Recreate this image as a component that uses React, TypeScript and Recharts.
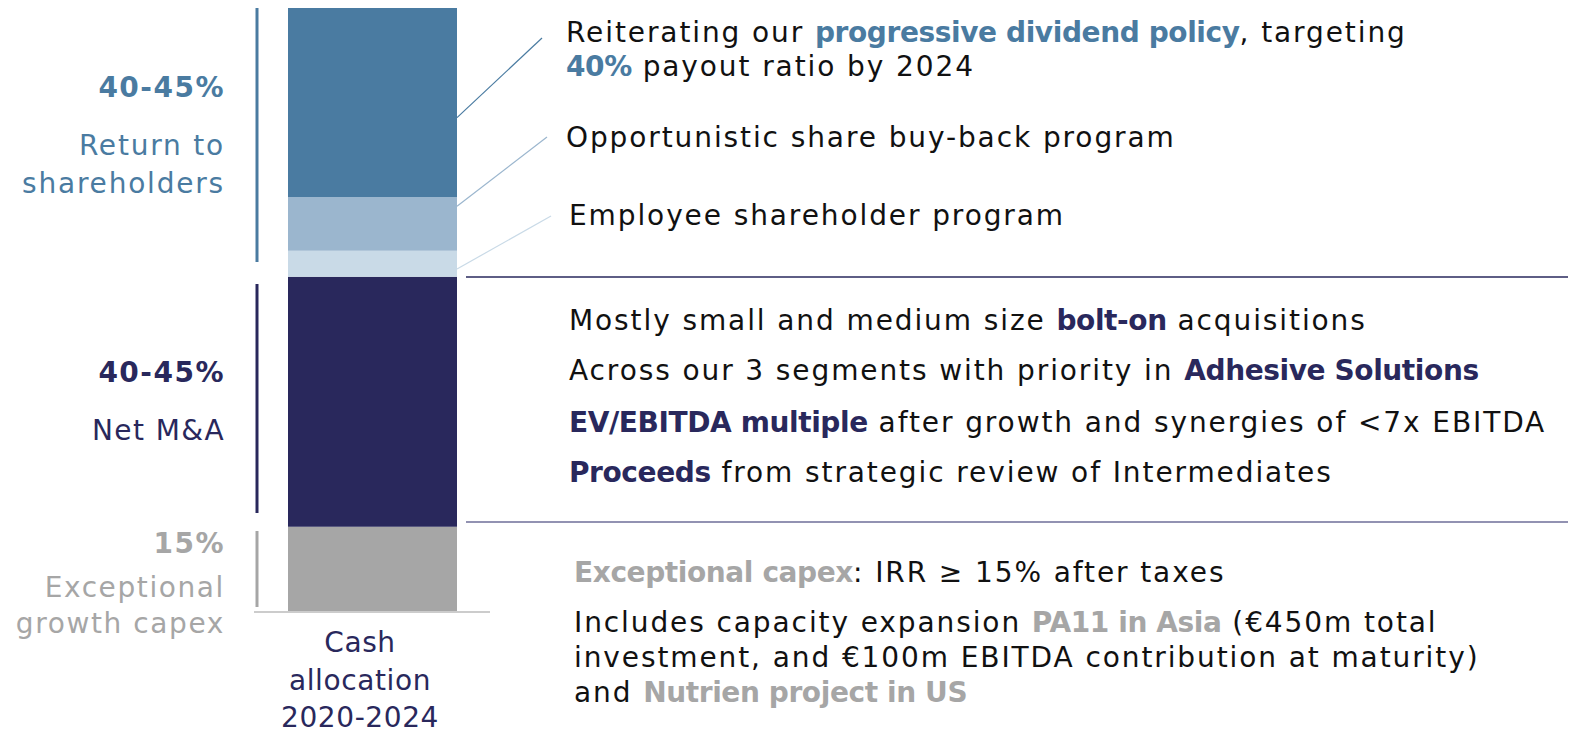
import React from "react";
import { BarChart, Bar, XAxis, YAxis } from "recharts";

// one stacked column, shares of cash allocation (%)
const categories = ["Cash allocation 2020-2024"];
const categoryLines = ["Cash", "allocation", "2020-2024"];
const exceptionalCapex = [14.1];
const netMA = [41.4];
const employeeProgram = [4.3];
const shareBuyBack = [8.9];
const dividend = [31.3];

const STEEL = "#4a7ba1";
const LIGHT = "#9bb6ce";
const LIGHTEST = "#c9dae7";
const NAVY = "#29285c";
const GREY = "#a6a6a6";
const FONT = "'DejaVu Sans', sans-serif";

const data = categories.map((name, i) => ({
  name,
  capex: exceptionalCapex[i],
  ma: netMA[i],
  employee: employeeProgram[i],
  buyback: shareBuyBack[i],
  dividend: dividend[i],
}));

// thin leader line from the right edge of a segment to its comment
const connector =
  (frac: number, tx: number, ty: number, color: string) => (p: any) => {
    const vb = p.viewBox ?? p;
    const x = Number(vb.x ?? p.x);
    const y = Number(vb.y ?? p.y);
    const w = Number(vb.width ?? p.width);
    const h = Number(vb.height ?? p.height);
    return (
      <line
        x1={x + w}
        y1={y + h * frac}
        x2={tx}
        y2={ty}
        stroke={color}
        strokeWidth={1.2}
      />
    );
  };

const CategoryTick = (props: any) => {
  const { x, y } = props;
  return (
    <text
      x={x - 12}
      y={y}
      textAnchor="middle"
      fill={NAVY}
      fontFamily={FONT}
      fontSize={28}
      letterSpacing={0.6}
    >
      {categoryLines.map((t, i) => (
        <tspan key={t} x={x - 12} dy={i === 0 ? 32 : 37.5}>
          {t}
        </tspan>
      ))}
    </text>
  );
};

const T = ({ x, y, children, anchor = "start", size = 28, fill = "#111", ls = 1.9 }: any) => (
  <text
    x={x}
    y={y}
    textAnchor={anchor}
    fontFamily={FONT}
    fontSize={size}
    fill={fill}
    letterSpacing={ls}
  >
    {children}
  </text>
);

const B = ({ c, children, ls = -0.4 }: any) => (
  <tspan fontWeight="bold" fill={c} letterSpacing={ls}>
    {children}
  </tspan>
);

export default function App() {
  return (
    <div style={{ position: "relative", width: 1573, height: 732, background: "#fff" }}>
      <style>{"body{margin:0}"}</style>
      <BarChart
        width={1573}
        height={732}
        data={data}
        margin={{ top: 8, right: 1083, left: 254, bottom: 0 }}
      >
        <YAxis hide domain={[0, 100]} allowDataOverflow />
        <XAxis
          dataKey="name"
          height={120}
          tickLine={false}
          axisLine={{ stroke: "#cccccc", strokeWidth: 2 }}
          tick={<CategoryTick />}
          interval={0}
        />
        <Bar dataKey="capex" stackId="a" fill={GREY} barSize={169} isAnimationActive={false} />
        <Bar dataKey="ma" stackId="a" fill={NAVY} barSize={169} isAnimationActive={false} />
        <Bar
          dataKey="employee"
          stackId="a"
          fill={LIGHTEST}
          barSize={169}
          isAnimationActive={false}
          label={connector(0.7, 551, 216, LIGHTEST)}
        />
        <Bar
          dataKey="buyback"
          stackId="a"
          fill={LIGHT}
          barSize={169}
          isAnimationActive={false}
          label={connector(0.17, 547, 137, LIGHT)}
        />
        <Bar
          dataKey="dividend"
          stackId="a"
          fill={STEEL}
          barSize={169}
          isAnimationActive={false}
          label={connector(0.58, 542, 38, STEEL)}
        />
      </BarChart>

      <svg
        width={1573}
        height={732}
        style={{ position: "absolute", left: 0, top: 0, pointerEvents: "none" }}
      >
        {/* left brackets */}
        <line x1={257} y1={8} x2={257} y2={262} stroke={STEEL} strokeWidth={3} />
        <line x1={257} y1={284} x2={257} y2={513} stroke={NAVY} strokeWidth={3} />
        <line x1={257} y1={531} x2={257} y2={607} stroke={GREY} strokeWidth={3} />

        {/* separators */}
        <line x1={466} y1={277} x2={1568} y2={277} stroke={NAVY} strokeWidth={1.5} />
        <line x1={466} y1={522} x2={1568} y2={522} stroke="#6e6e99" strokeWidth={1.5} />

        {/* left labels */}
        <T x={225} y={97} anchor="end" fill={STEEL}><B c={STEEL} ls={1.5}>40-45%</B></T>
        <T x={225} y={155} anchor="end" fill={STEEL} ls={1.8}>Return to</T>
        <T x={225} y={193} anchor="end" fill={STEEL} ls={1.8}>shareholders</T>
        <T x={225} y={382} anchor="end" fill={NAVY}><B c={NAVY} ls={1.5}>40-45%</B></T>
        <T x={225} y={440} anchor="end" fill={NAVY} ls={1.4}>Net M&amp;A</T>
        <T x={225} y={553} anchor="end" fill={GREY}><B c={GREY} ls={1.5}>15%</B></T>
        <T x={225} y={597} anchor="end" fill={GREY} ls={1.6}>Exceptional</T>
        <T x={225} y={633} anchor="end" fill={GREY} ls={1.6}>growth capex</T>

        {/* right comments */}
        <T x={566} y={42}>
          Reiterating our <B c={STEEL}>progressive dividend policy</B>, targeting
        </T>
        <T x={566} y={76}>
          <B c={STEEL}>40%</B> payout ratio by 2024
        </T>
        <T x={566} y={147}>Opportunistic share buy-back program</T>
        <T x={569} y={225}>Employee shareholder program</T>

        <T x={569} y={330}>
          Mostly small and medium size <B c={NAVY}>bolt-on</B> acquisitions
        </T>
        <T x={569} y={380}>
          Across our 3 segments with priority in <B c={NAVY}>Adhesive Solutions</B>
        </T>
        <T x={569} y={432}>
          <B c={NAVY}>EV/EBITDA multiple</B> after growth and synergies of &lt;7x EBITDA
        </T>
        <T x={569} y={482}>
          <B c={NAVY}>Proceeds</B> from strategic review of Intermediates
        </T>

        <T x={574} y={582}>
          <B c={GREY}>Exceptional capex</B>: IRR ≥ 15% after taxes
        </T>
        <T x={574} y={632}>
          Includes capacity expansion <B c={GREY}>PA11 in Asia</B> (€450m total
        </T>
        <T x={574} y={667}>investment, and €100m EBITDA contribution at maturity)</T>
        <T x={574} y={702}>
          and <B c={GREY}>Nutrien project in US</B>
        </T>
      </svg>
    </div>
  );
}
